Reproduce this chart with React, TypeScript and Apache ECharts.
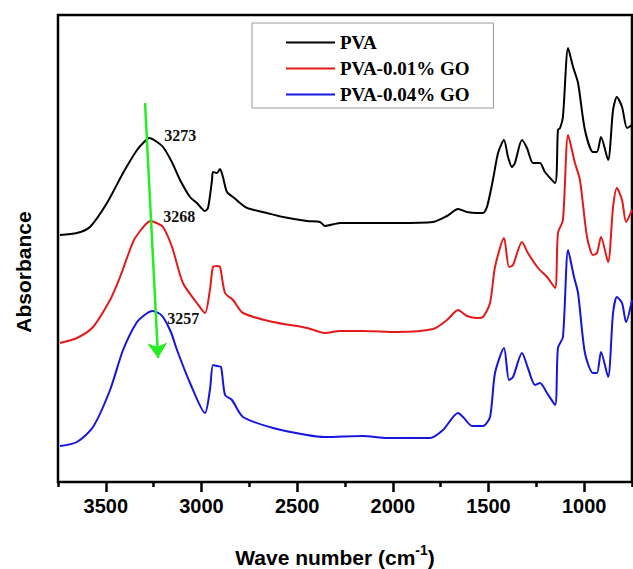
import React, { useEffect, useRef } from "react";
import * as echarts from "echarts";

// FTIR absorbance spectra, [wavenumber (cm-1), absorbance (a.u., stacked offsets)]
const pvaSpectrum: [number, number][] = [
  [3740, 2.47], [3651, 2.49], [3583, 2.55], [3494, 2.79], [3410, 3.09], [3337, 3.32],
  [3300, 3.4], [3273, 3.44], [3240, 3.41], [3201, 3.35], [3155, 3.2], [3112, 3.02],
  [3060, 2.85], [3024, 2.79], [2982, 2.71], [2966, 2.74], [2945, 3.02], [2940, 3.1],
  [2919, 3.09], [2903, 3.13], [2888, 3.05], [2867, 2.9], [2835, 2.85], [2799, 2.79],
  [2762, 2.74], [2658, 2.69], [2574, 2.65], [2449, 2.61], [2381, 2.6], [2355, 2.56],
  [2276, 2.59], [2156, 2.59], [1978, 2.59], [1790, 2.6], [1717, 2.66], [1659, 2.73],
  [1612, 2.7], [1560, 2.69], [1529, 2.69], [1508, 2.75], [1477, 3.02], [1450, 3.29],
  [1419, 3.42], [1398, 3.25], [1377, 3.15], [1362, 3.19], [1325, 3.42], [1299, 3.34],
  [1267, 3.19], [1231, 3.19], [1205, 3.1], [1152, 2.99], [1137, 3.52], [1126, 3.54],
  [1111, 3.65], [1084, 4.34], [1058, 4.15], [1032, 3.99], [996, 3.52], [954, 3.3],
  [933, 3.3], [912, 3.45], [875, 3.22], [849, 3.72], [829, 3.85], [802, 3.75],
  [776, 3.54], [750, 3.57],
];

const pvaGo001Spectrum: [number, number][] = [
  [3740, 1.39], [3651, 1.44], [3567, 1.55], [3478, 1.82], [3436, 2.0], [3410, 2.13],
  [3384, 2.27], [3353, 2.42], [3321, 2.51], [3290, 2.58], [3268, 2.61], [3235, 2.59],
  [3201, 2.55], [3154, 2.35], [3097, 1.99], [3024, 1.79], [2982, 1.69], [2956, 1.92],
  [2940, 2.15], [2919, 2.16], [2903, 2.15], [2877, 1.89], [2835, 1.82], [2783, 1.69],
  [2626, 1.6], [2449, 1.54], [2355, 1.49], [2276, 1.51], [2156, 1.51], [1978, 1.5],
  [1790, 1.53], [1717, 1.62], [1659, 1.72], [1612, 1.66], [1560, 1.64], [1529, 1.65],
  [1492, 1.79], [1466, 2.15], [1419, 2.44], [1393, 2.15], [1372, 2.17], [1325, 2.4],
  [1294, 2.29], [1241, 2.14], [1194, 2.05], [1152, 1.94], [1137, 2.49], [1111, 2.62],
  [1084, 3.47], [1048, 3.19], [1022, 3.02], [985, 2.45], [954, 2.27], [933, 2.29],
  [912, 2.45], [875, 2.2], [849, 2.75], [829, 2.94], [802, 2.82], [781, 2.6],
  [750, 2.72],
];

const pvaGo004Spectrum: [number, number][] = [
  [3740, 0.36], [3651, 0.4], [3567, 0.55], [3478, 0.92], [3410, 1.32], [3337, 1.6],
  [3290, 1.68], [3257, 1.71], [3225, 1.69], [3201, 1.65], [3160, 1.5], [3128, 1.32],
  [3060, 0.99], [2982, 0.69], [2956, 0.92], [2940, 1.17], [2919, 1.16], [2898, 1.15],
  [2877, 0.87], [2841, 0.82], [2783, 0.65], [2626, 0.54], [2449, 0.47], [2355, 0.45],
  [2156, 0.46], [2030, 0.44], [1806, 0.44], [1738, 0.52], [1659, 0.69], [1633, 0.65],
  [1586, 0.56], [1529, 0.56], [1492, 0.65], [1466, 1.09], [1419, 1.34], [1393, 1.02],
  [1372, 1.05], [1325, 1.29], [1294, 1.14], [1257, 0.97], [1231, 0.99], [1194, 0.89],
  [1152, 0.77], [1137, 1.34], [1111, 1.45], [1084, 2.32], [1053, 2.05], [1032, 1.89],
  [996, 1.29], [954, 1.09], [933, 1.09], [912, 1.3], [875, 1.05], [849, 1.69],
  [829, 1.85], [802, 1.79], [781, 1.6], [750, 1.82],
];

const seriesNames = ["PVA", "PVA-0.01% GO", "PVA-0.04% GO"];
const seriesColors = ["#000000", "#e41a1a", "#1515e0"];

// O–H stretching band maxima (cm-1) and their absorbance
const ohPeaks: [number, number][] = [
  [3273, 3.44],
  [3268, 2.61],
  [3257, 1.71],
];

// shift arrow drawn across the O–H band
const shiftArrow: [number, number][] = [
  [3295, 3.79],
  [3227, 1.24],
];

const majorTicks = [1000, 1500, 2000, 2500, 3000, 3500];
const minorTicks = [750, 1250, 1750, 2250, 2750, 3250, 3750];

const serif = "'Liberation Serif', 'Times New Roman', serif";
const sans = "'Liberation Sans', Arial, sans-serif";

export default function App() {
  const ref = useRef<HTMLDivElement>(null);

  useEffect(() => {
    if (!ref.current) return;
    const chart = echarts.init(ref.current, undefined, { renderer: "svg" });

    const peakLabelOffsets: [number, number][] = [
      [15, -3],
      [13, -5],
      [15, 7],
    ];

    const spectra = [pvaSpectrum, pvaGo001Spectrum, pvaGo004Spectrum];

    const series: any[] = spectra.map((data, i) => ({
      name: seriesNames[i],
      type: "line",
      data,
      smooth: 0.25,
      symbol: "none",
      showSymbol: false,
      lineStyle: { color: seriesColors[i], width: 2 },
      itemStyle: { color: seriesColors[i] },
      z: 2,
      markPoint: {
        silent: true,
        symbol: "circle",
        symbolSize: 0,
        data: [
          {
            coord: ohPeaks[i],
            label: {
              show: true,
              position: "right",
              distance: 0,
              offset: peakLabelOffsets[i],
              formatter: String(ohPeaks[i][0]),
              fontFamily: serif,
              fontWeight: "bold",
              fontSize: 16,
              color: "#111",
            },
          },
        ],
      },
    }));

    series[0].markLine = {
      silent: true,
      symbol: ["none", "arrow"],
      symbolSize: 15,
      label: { show: false },
      lineStyle: { color: "#22ee22", width: 2.5, type: "solid" },
      itemStyle: { color: "#22ee22" },
      data: [[{ coord: shiftArrow[0] }, { coord: shiftArrow[1] }]],
      z: 10,
    };

    chart.setOption({
      animation: false,
      backgroundColor: "#ffffff",
      grid: {
        left: 58,
        right: 1,
        top: 15,
        bottom: 87,
        show: true,
        borderColor: "#000",
        borderWidth: 2.5,
        backgroundColor: "transparent",
      },
      legend: {
        data: seriesNames,
        orient: "vertical",
        left: 252,
        top: 23,
        icon: "rect",
        itemWidth: 49,
        itemHeight: 2,
        itemGap: 7,
        padding: [10, 24, 4, 34],
        borderColor: "#999",
        borderWidth: 1,
        backgroundColor: "#fff",
        textStyle: {
          fontFamily: serif,
          fontWeight: "bold",
          fontSize: 19,
          lineHeight: 19,
          color: "#000",
        },
      },
      xAxis: [
        {
          type: "value",
          inverse: true,
          min: 750,
          max: 3750,
          axisLine: { show: false },
          splitLine: { show: false },
          axisTick: {
            show: true,
            length: 10,
            customValues: majorTicks,
            lineStyle: { color: "#000", width: 2.5 },
          },
          axisLabel: {
            customValues: majorTicks,
            formatter: (v: number) => String(v),
            margin: 14,
            fontFamily: sans,
            fontWeight: "bold",
            fontSize: 20,
            color: "#000",
          },
        },
        {
          type: "value",
          inverse: true,
          min: 750,
          max: 3750,
          position: "bottom",
          axisLine: { show: false },
          splitLine: { show: false },
          axisTick: {
            show: true,
            length: 5,
            customValues: minorTicks,
            lineStyle: { color: "#000", width: 2.5 },
          },
          axisLabel: { show: false },
        },
      ],
      yAxis: {
        type: "value",
        min: 0,
        max: 4.67,
        axisLine: { show: false },
        axisTick: { show: false },
        axisLabel: { show: false },
        splitLine: { show: false },
      },
      graphic: [
        {
          type: "text",
          x: 23,
          y: 272,
          rotation: Math.PI / 2,
          style: {
            text: "Absorbance",
            fontFamily: sans,
            fontWeight: "bold",
            fontSize: 21,
            fill: "#000",
            align: "center",
            verticalAlign: "middle",
          },
        },
        {
          type: "text",
          x: 335,
          y: 557,
          style: {
            text: "{a|Wave number (cm}{s|-1}{a|)}",
            align: "center",
            verticalAlign: "middle",
            rich: {
              a: {
                fontFamily: sans,
                fontWeight: "bold",
                fontSize: 21,
                lineHeight: 28,
                fill: "#000",
              },
              s: {
                fontFamily: sans,
                fontWeight: "bold",
                fontSize: 14,
                lineHeight: 28,
                verticalAlign: "top",
                fill: "#000",
              },
            },
          },
        },
      ],
      series,
    });

    return () => chart.dispose();
  }, []);

  return (
    <div
      ref={ref}
      style={{ position: "absolute", left: 0, top: 0, width: 633, height: 569 }}
    />
  );
}
